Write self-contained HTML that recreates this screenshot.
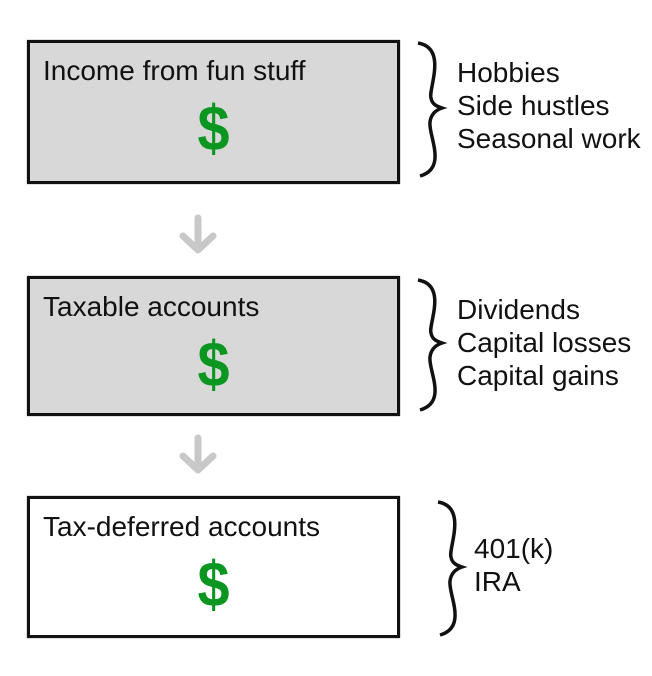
<!DOCTYPE html>
<html><head><style>
body{margin:0;width:652px;height:676px;background:#fff;position:relative;font-family:"Liberation Sans",Arial,Helvetica,sans-serif;overflow:hidden}
.box{position:absolute;left:27px;width:367px;border:3px solid #111;box-shadow:0 0 1px #555}
.t{position:absolute;left:13px;top:12px;font-size:28px;color:#111;white-space:nowrap}
.d{position:absolute;left:0;width:100%;text-align:center;font-size:64px;font-weight:bold;color:#0a9620;top:48px;transform:scaleX(0.9)}
.l{position:absolute;font-size:28px;line-height:33px;color:#111;white-space:nowrap}
</style></head><body>
<div class="box" style="top:40px;height:138px;background:#d8d8d8"><div class="t">Income from fun stuff</div><div class="d">$</div></div>
<div class="box" style="top:276px;height:134px;background:#d8d8d8"><div class="t">Taxable accounts</div><div class="d">$</div></div>
<div class="box" style="top:496px;height:136px;background:#fff"><div class="t">Tax-deferred accounts</div><div class="d">$</div></div>
<svg width="652" height="676" style="position:absolute;left:0;top:0">
<g stroke="#c8c8c8" stroke-width="7" stroke-linecap="round" stroke-linejoin="round" fill="none">
<path d="M198 218 V248 M183 236 L198 250 L213 236"/>
<path d="M198 438 V468 M183 456 L198 470 L213 456"/>
</g>
<g fill="none" stroke="#111" stroke-width="3.5">
<path d="M418 43 C448 48 428 90 431 98 C432 104 436 106 442 108 C436 110 431 114 430 122 C428 135 448 168 420 176"/>
<path d="M418 280 C448 285 428 325 431 333 C432 339 436 341 442 343 C436 345 431 349 430 357 C428 370 448 402 420 410"/>
<path d="M438 502 C468 507 448 549 451 557 C452 563 456 565 462 567 C456 569 451 573 450 581 C448 594 468 627 440 635"/>
</g>
</svg>
<div class="l" style="left:457px;top:56px">Hobbies<br>Side hustles<br>Seasonal work</div>
<div class="l" style="left:457px;top:293px">Dividends<br>Capital losses<br>Capital gains</div>
<div class="l" style="left:474px;top:532px">401(k)<br>IRA</div>
</body></html>
